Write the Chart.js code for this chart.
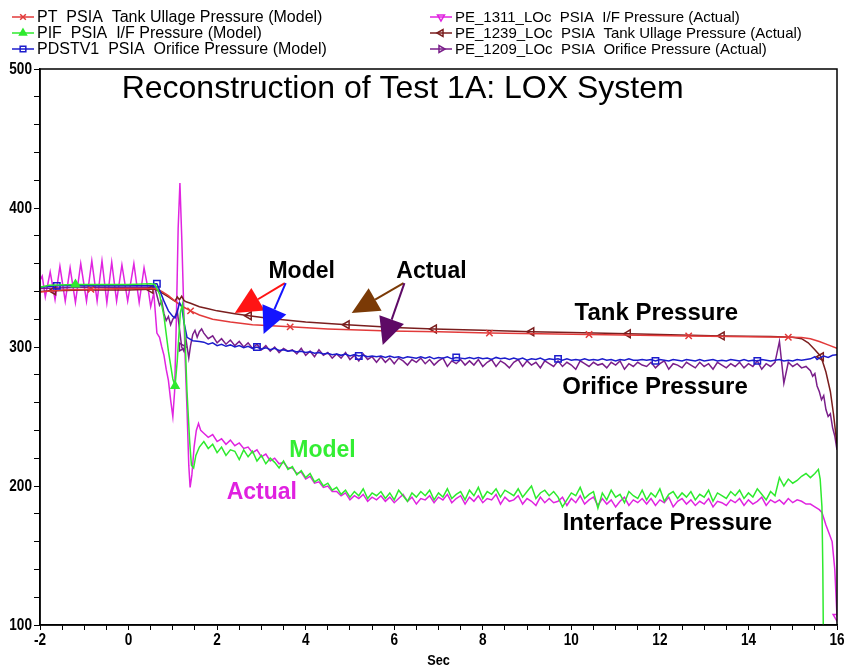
<!DOCTYPE html>
<html>
<head>
<meta charset="utf-8">
<script src="https://cdn.jsdelivr.net/npm/chart.js@4.4.1/dist/chart.umd.min.js"></script>
<style>
  html, body { margin: 0; padding: 0; background: #fff; }
  #wrap { width: 851px; height: 669px; }
</style>
</head>
<body>
<div id="wrap"><canvas id="lox" width="851" height="669"></canvas></div>
<script>
// shared time base for the noisy steady part (sec)
const tSteady = [
  1.7,1.8,1.9,2.0,2.1,2.2,2.3,2.4,2.5,2.6,
  2.7,2.8,2.9,3.0,3.1,3.2,3.3,3.4,3.5,3.6,
  3.7,3.8,3.9,4.0,4.1,4.2,4.3,4.4,4.5,4.6,
  4.7,4.8,4.9,5.0,5.1,5.2,5.3,5.4,5.5,5.6,
  5.7,5.8,5.9,6.0,6.1,6.2,6.3,6.4,6.5,6.6,
  6.7,6.8,6.9,7.0,7.1,7.2,7.3,7.4,7.5,7.6,
  7.7,7.8,7.9,8.0,8.1,8.2,8.3,8.4,8.5,8.6,
  8.7,8.8,8.9,9.0,9.1,9.2,9.3,9.4,9.5,9.6,
  9.7,9.8,9.9,10.0,10.1,10.2,10.3,10.4,10.5,10.6,
  10.7,10.8,10.9,11.0,11.1,11.2,11.3,11.4,11.5,11.6,
  11.7,11.8,11.9,12.0,12.1,12.2,12.3,12.4,12.5,12.6,
  12.7,12.8,12.9,13.0,13.1,13.2,13.3,13.4,13.5,13.6,
  13.7,13.8,13.9,14.0,14.1,14.2,14.3,14.4,14.5,14.6,
  14.7,14.8,14.9,15.0,15.1,15.2,15.3
];

// PT  PSIA  Tank Ullage Pressure (Model)
const ptTime = [-2,-1.5,-0.85,0,0.6,0.75,0.9,1.05,1.2,1.4,1.6,1.9,2.3,2.8,3.65,4.5,5.9,7,8.15,10.4,12.65,14.9,15.2,15.4,15.6,15.8,16];
const ptValue = [339.5,341,341.5,342,342,340,337,333,329.5,326,323,320,318,316,314.5,313,311.5,311,310,309,308,307,306.8,306,304,301.5,299];
const ptMarks = [-0.85,1.4,3.65,5.9,8.15,10.4,12.65,14.9];

// PIF  PSIA  I/F Pressure (Model)
const pifTimeStart = [-2,-1.8,-1.2,-0.5,0,0.5,0.6,0.7,0.8,0.9,1.0,1.05,1.1,1.17,1.22,1.27,1.32,1.38,1.42,1.47,1.52,1.6];
const pifValueStart = [343,344.5,345,345,345,345.5,345,338,322,297,277,272,290,325,331,312,268,232,215,213,222,228];
const pifValueSteady = [
  232,227,230,224,228,222,226,225,219,226,
  221,225,218,222,216,220,217,213,218,212,
  214,208,211,206,209,203,205,200,202,197,
  199,194,197,192,196,193,198,191,195,193,
  196,191,195,190,197,193,189,195,192,196,
  193,197,190,195,192,198,191,194,196,190,
  197,193,199,191,196,194,198,192,197,195,
  193,198,192,196,200,191,195,197,193,196,
  192,185,190,195,193,199,191,194,196,184,
  195,190,197,192,194,188,196,193,191,197,
  190,195,192,198,189,194,196,191,195,192,
  196,190,194,192,197,189,195,193,191,196,
  193,197,191,195,192,198,194,190,196,193,
  206,200,205,202,204,207,209
];
const pifTimeEnd = [15.4,15.5,15.58,15.62,15.66,15.68,15.69];
const pifValueEnd = [206,209,212,205,185,140,100];
const pifMarks = [-1.2,1.05];

// PDSTV1  PSIA  Orifice Pressure (Model)
const orfTimeStart = [-2,-1.62,-1,0,0.55,0.6,0.64,0.7,0.8,0.9,1.0,1.05,1.1,1.15,1.2,1.25,1.32,1.45,1.6];
const orfValueStart = [343,344,344,344,344,345.5,345.5,341,333,326,322,321,325,332,329,318,307,304.5,304];
const orfValueSteady = [
  303.5,302,303,301,302,300.5,301.5,300,301,299.5,
  300.5,299,300,298.5,299.5,298,299,297.5,298,297,
  297.5,296.5,297,296,296.5,295.5,296,295,295.5,294.5,
  295,294,295,293.5,294.5,293.5,294,293,293.5,293,
  293.5,292.5,293.5,292.5,293,292,293,292.5,292,293,
  292,293,291.5,292.5,292,293,291.5,292.5,292,291.5,
  292.5,291.5,292.5,291.5,292,291,292.5,291.5,292,291,
  292,291,292,290.5,291.5,291,292,290.5,291.5,291,
  291.5,290.5,291.5,290.5,291,290.5,291.5,290.5,291,290.5,
  291.5,290.5,291,290,291,290.5,291.5,290.5,290.5,291,
  290.5,291,290,291,290.5,290,291,290.5,290,291,
  290.5,290,291,290,290.5,291,290,290.5,290,291,
  290.5,290,291,290,290.5,290,291,290.5,290,290.5,
  291,290,290.5,290,291,290.5,291
];
const orfTimeEnd = [15.4,15.5,15.55,15.6,15.7,15.8,15.9,16];
const orfValueEnd = [291.5,293,291,292,293.5,292.5,294,294.5];
const orfMarks = [-1.62,0.64,2.9,5.2,7.4,9.7,11.9,14.2];

// PE_1311_LOc  PSIA  I/F Pressure (Actual)
const pe1311TimeStart = [-2,-1.95,-1.88,-1.77,-1.66,-1.55,-1.43,-1.32,-1.2,-1.08,
  -0.95,-0.83,-0.71,-0.6,-0.49,-0.38,-0.27,-0.15,-0.02,0.12,
  0.24,0.35,0.45,0.5,0.57,0.64,0.7,0.75,0.8,0.85,
  0.9,0.95,1.0,1.04,1.08,1.12,1.16,1.2,1.24,1.28,
  1.32,1.36,1.39,1.43,1.48,1.53,1.58,1.63];
const pe1311ValueStart = [348,351,336,354,334,358,333,357,332,360,
  333,362,333,362,332,361,333,359,333,360,
  332,357,340,329,339,310,307,300,294,284,
  276,262,250,268,320,385,418,380,335,290,
  255,215,199,208,228,240,245,240];
const pe1311ValueSteady = [
  238,235,237,232,234,230,233,229,231,227,
  228,224,226,221,223,218,220,216,217,213,
  213,209,210,205,207,202,203,199,200,196,
  196,193,195,190,193,191,194,189,192,190,
  193,189,192,188,191,194,189,192,187,191,
  190,193,188,192,190,194,188,191,193,187,
  192,189,193,188,191,190,194,187,192,189,
  190,193,187,191,189,186,192,188,191,188,
  189,192,186,191,188,193,187,190,192,186,
  191,187,190,185,189,192,186,190,188,191,
  187,191,186,190,188,192,185,189,191,187,
  190,186,189,187,191,185,189,188,186,190,
  188,191,186,190,187,189,192,186,190,188,
  190,187,191,188,190,189,187
];
const pe1311TimeEnd = [15.4,15.5,15.6,15.66,15.75,15.82,15.89,15.95,16];
const pe1311ValueEnd = [187,185,183,181,172,166,160,140,106];
const pe1311Marks = [16];

// PE_1239_LOc  PSIA  Tank Ullage Pressure (Actual)
const pe1239Time = [-2,-1.7,-1,0,0.5,0.6,0.7,0.8,0.9,1.0,
  1.05,1.1,1.15,1.2,1.25,1.3,1.4,1.6,1.8,2.0,
  2.4,2.72,3.2,4.0,4.93,6.0,6.9,8.0,9.1,10.0,
  11.28,12.0,13.4,14.5,15.0,15.2,15.35,15.5,15.64,15.75,
  15.85,15.92,16];
const pe1239Value = [340,340.5,341,341,341.5,341.5,340,338,336,334,
  333,336,334,336.5,333.5,332.5,331.5,329,327.5,326,
  324,322.5,320.5,318,316,314,313,312,311,310.5,
  309.5,309,308,307.5,307,306,303,298,293,282,
  268,252,230];
const pe1239Marks = [-1.7,0.5,2.72,4.93,6.9,9.1,11.28,13.4,15.64];

// PE_1209_LOc  PSIA  Orifice Pressure (Actual)
const pe1209TimeStart = [-2,-1.05,-0.5,0,0.5,0.6,0.65,0.7,0.75,0.8,0.85,0.9,0.95,1.0,1.05,1.1,1.15,1.2,1.25,1.3,1.36,1.4,1.45,1.5,1.55,1.6,1.65];
const pe1209ValueStart = [342,343,343,343,343,342,336,330,333,324,319,322,316,320,322,326,313,300,297,305,292,301,309,312,307,311,313];
const pe1209ValueSteady = [
  310,306,308,303,306,302,305,301,304,300,
  303,299,302,298,301,297,300,296,299,297,
  298,295,299,294,297,293,298,294,296,292,
  295,292,296,291,294,290,295,291,293,289,
  293,289,292,288,292,290,287,291,289,292,
  288,291,287,290,292,286,290,288,291,287,
  290,287,291,286,289,291,286,290,288,285,
  289,291,286,290,287,289,285,290,288,286,
  290,286,289,287,284,290,288,286,289,287,
  288,285,289,287,290,284,288,286,289,287,
  286,289,285,288,290,284,288,287,285,289,
  287,285,289,286,288,284,289,287,285,288,
  286,289,285,288,286,290,284,288,286,289,
  304,274,289,286,288,285,286
];
const pe1209TimeEnd = [15.4,15.45,15.5,15.55,15.6,15.65,15.7,15.75,15.8,15.85,15.9,15.95,16];
const pe1209ValueEnd = [283,279,281,272,268,262,265,255,250,252,242,236,226];
const pe1209Marks = [1.2];

const xTickLabels = [-2, 0, 2, 4, 6, 8, 10, 12, 14, 16];
const yTickLabels = [100, 200, 300, 400, 500];

function pts(times, values) {
  return times.map((t, i) => ({ x: t, y: values[i] }));
}
function marks(list) {
  return ctx => (ctx.raw && list.includes(ctx.raw.x)) ? 4.5 : 0;
}
function series(label, data, color, style, rotation, markList, fillMark) {
  return {
    label: label,
    data: data,
    borderColor: color,
    backgroundColor: color,
    borderWidth: 1.5,
    pointStyle: style,
    rotation: rotation,
    pointRadius: marks(markList),
    pointBorderColor: color,
    pointBackgroundColor: fillMark ? color : 'rgba(255,255,255,0)',
    pointBorderWidth: 1.5,
    pointHoverRadius: 0,
    tension: 0,
    fill: false
  };
}

// drawn top-first
const datasets = [
  series('PIF  PSIA  I/F Pressure (Model)', pts(pifTimeStart.concat(tSteady, pifTimeEnd), pifValueStart.concat(pifValueSteady, pifValueEnd)), '#2eea2e', 'triangle', 0, pifMarks, true),
  series('PDSTV1  PSIA  Orifice Pressure (Model)', pts(orfTimeStart.concat(tSteady, orfTimeEnd), orfValueStart.concat(orfValueSteady, orfValueEnd)), '#1c1ccc', 'rect', 0, orfMarks, false),
  series('PT  PSIA  Tank Ullage Pressure (Model)', pts(ptTime, ptValue), '#e23a3a', 'crossRot', 0, ptMarks, false),
  series('PE_1239_LOc  PSIA  Tank Ullage Pressure (Actual)', pts(pe1239Time, pe1239Value), '#7a1e1e', 'triangle', -90, pe1239Marks, false),
  series('PE_1209_LOc  PSIA  Orifice Pressure (Actual)', pts(pe1209TimeStart.concat(tSteady, pe1209TimeEnd), pe1209ValueStart.concat(pe1209ValueSteady, pe1209ValueEnd)), '#7a1f8a', 'triangle', 90, pe1209Marks, false),
  series('PE_1311_LOc  PSIA  I/F Pressure (Actual)', pts(pe1311TimeStart.concat(tSteady, pe1311TimeEnd), pe1311ValueStart.concat(pe1311ValueSteady, pe1311ValueEnd)), '#e024e0', 'triangle', 180, pe1311Marks, false)
];

const legendColumns = [
  ['PT  PSIA  Tank Ullage Pressure (Model)', 'PIF  PSIA  I/F Pressure (Model)', 'PDSTV1  PSIA  Orifice Pressure (Model)'],
  ['PE_1311_LOc  PSIA  I/F Pressure (Actual)', 'PE_1239_LOc  PSIA  Tank Ullage Pressure (Actual)', 'PE_1209_LOc  PSIA  Orifice Pressure (Actual)']
];

const sansFamily = "'Liberation Sans', Arial, Helvetica, sans-serif";

// annotations, placed in data units
const notes = [
  { text: 'Reconstruction of Test 1A: LOX System', x: 6.19, y: 485.5, color: '#000', font: '32px ' + sansFamily },
  { text: 'Model', x: 3.91, y: 354.5, color: '#000', font: 'bold 23px ' + sansFamily },
  { text: 'Actual', x: 6.84, y: 354.5, color: '#000', font: 'bold 23px ' + sansFamily },
  { text: 'Tank Pressure', x: 11.92, y: 324.4, color: '#000', font: 'bold 24px ' + sansFamily },
  { text: 'Orifice Pressure', x: 11.89, y: 271.3, color: '#000', font: 'bold 24px ' + sansFamily },
  { text: 'Interface Pressure', x: 12.17, y: 173.1, color: '#000', font: 'bold 24px ' + sansFamily },
  { text: 'Model', x: 4.38, y: 225.4, color: '#33ee33', font: 'bold 23px ' + sansFamily },
  { text: 'Actual', x: 3.01, y: 195.3, color: '#e020e0', font: 'bold 23px ' + sansFamily }
];
const arrows = [
  { from: [3.53, 345.9], to: [2.40, 324.4], color: '#ff1414' },
  { from: [3.55, 345.9], to: [3.05, 309.3], color: '#1414ff' },
  { from: [6.21, 345.9], to: [5.04, 324.4], color: '#7b3a06' },
  { from: [6.23, 345.9], to: [5.74, 301.4], color: '#5e0a66' }
];

// condensed text, like the narrow face of the original plot
function squeezed(ctx, text, x, y, k) {
  const w = ctx.measureText(text).width;
  ctx.fillText(text, x, y, w * k);
}

const overlay = {
  id: 'overlay',
  afterDatasetsDraw(chart) {
    const { ctx, chartArea: a, scales: { x, y } } = chart;
    ctx.save();
    // frame
    ctx.strokeStyle = '#000';
    ctx.lineWidth = 1.5;
    ctx.strokeRect(a.left, a.top, a.right - a.left, a.bottom - a.top);

    arrows.forEach(ar => {
      const x0 = x.getPixelForValue(ar.from[0]), y0 = y.getPixelForValue(ar.from[1]);
      const x1 = x.getPixelForValue(ar.to[0]), y1 = y.getPixelForValue(ar.to[1]);
      const ang = Math.atan2(y1 - y0, x1 - x0);
      const len = 27, half = 13;
      const bx = x1 - Math.cos(ang) * len, by = y1 - Math.sin(ang) * len;
      ctx.strokeStyle = ar.color;
      ctx.fillStyle = ar.color;
      ctx.lineWidth = 2;
      ctx.beginPath();
      ctx.moveTo(x0, y0);
      ctx.lineTo(bx, by);
      ctx.stroke();
      ctx.beginPath();
      ctx.moveTo(x1, y1);
      ctx.lineTo(bx + Math.sin(ang) * half, by - Math.cos(ang) * half);
      ctx.lineTo(bx - Math.sin(ang) * half, by + Math.cos(ang) * half);
      ctx.closePath();
      ctx.fill();
    });

    ctx.textAlign = 'center';
    ctx.textBaseline = 'middle';
    notes.forEach(n => {
      ctx.font = n.font;
      ctx.fillStyle = n.color;
      ctx.fillText(n.text, x.getPixelForValue(n.x), y.getPixelForValue(n.y));
    });

    // tick labels
    ctx.fillStyle = '#000';
    ctx.font = 'bold 17px ' + sansFamily;
    ctx.textAlign = 'center';
    ctx.textBaseline = 'top';
    xTickLabels.forEach(v => squeezed(ctx, String(v), x.getPixelForValue(v), a.bottom + 7, 0.8));
    ctx.textAlign = 'right';
    ctx.textBaseline = 'middle';
    yTickLabels.forEach(v => squeezed(ctx, String(v), a.left - 8, y.getPixelForValue(v), 0.8));

    // axis title
    ctx.font = 'bold 15px ' + sansFamily;
    ctx.textAlign = 'center';
    squeezed(ctx, 'Sec', (a.left + a.right) / 2, 661, 0.85);
    ctx.restore();
  },
  afterDraw(chart) {
    const ctx = chart.ctx;
    const colX = [12, 430];
    const colSize = [16, 15];
    const rowY = [17, 33, 49];
    ctx.save();
    ctx.textAlign = 'left';
    ctx.textBaseline = 'middle';
    legendColumns.forEach((col, c) => {
      ctx.font = colSize[c] + 'px ' + sansFamily;
      col.forEach((label, r) => {
        const ds = chart.data.datasets.find(d => d.label === label);
        const lx = colX[c], ly = rowY[r];
        ctx.strokeStyle = ds.borderColor;
        ctx.lineWidth = 1.5;
        ctx.beginPath();
        ctx.moveTo(lx, ly);
        ctx.lineTo(lx + 22, ly);
        ctx.stroke();
        ctx.fillStyle = ds.pointBackgroundColor;
        Chart.helpers.drawPoint(ctx, { pointStyle: ds.pointStyle, rotation: ds.rotation, radius: 4, borderWidth: 1.5 }, lx + 11, ly);
        ctx.fillStyle = '#000';
        ctx.fillText(label, lx + 25, ly + 1);
      });
    });
    ctx.restore();
  }
};

new Chart(document.getElementById('lox').getContext('2d'), {
  type: 'line',
  data: { datasets: datasets },
  options: {
    responsive: false,
    animation: false,
    layout: { padding: { top: 69, right: 14, left: 0, bottom: 0 } },
    plugins: { legend: { display: false }, tooltip: { enabled: false } },
    scales: {
      x: {
        type: 'linear',
        min: -2,
        max: 16,
        ticks: { stepSize: 0.5, autoSkip: false, maxRotation: 0, callback: () => '' },
        grid: { drawOnChartArea: false, drawTicks: true, tickLength: 5, color: '#000' },
        border: { color: '#000', width: 1.5 },
        afterFit: s => { s.height = 44; }
      },
      y: {
        type: 'linear',
        min: 100,
        max: 500,
        ticks: { stepSize: 20, autoSkip: false, callback: () => '' },
        grid: { drawOnChartArea: false, drawTicks: true, tickLength: 6, color: '#000' },
        border: { color: '#000', width: 1.5 },
        afterFit: s => { s.width = 40; }
      }
    }
  },
  plugins: [overlay]
});
</script>
</body>
</html>
